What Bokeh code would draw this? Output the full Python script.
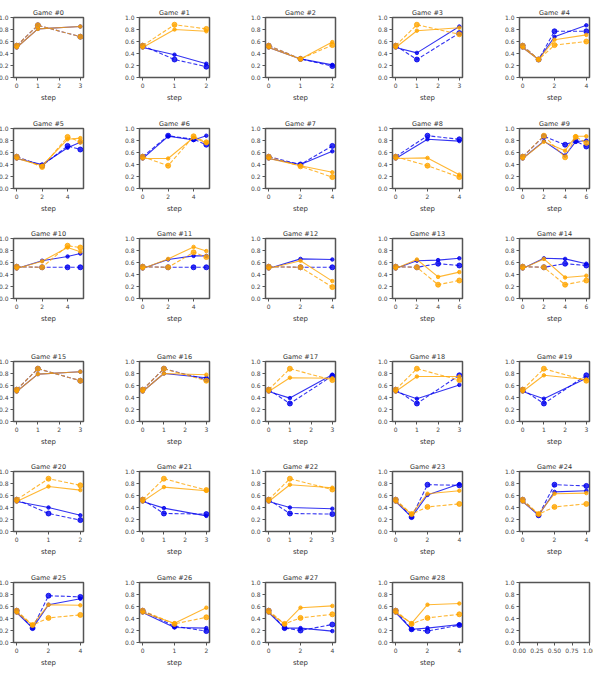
from bokeh.plotting import figure
from bokeh.layouts import column, row
from bokeh.models import FixedTicker, PrintfTickFormatter
from bokeh.embed import file_html
from bokeh.resources import INLINE

# ---- data ----
game_ids = list(range(29))
steps = [
    [0, 1, 3], [0, 1, 2], [0, 1, 2], [0, 1, 3], [0, 1, 2, 4],
    [0, 2, 4, 5], [0, 2, 4, 5], [0, 2, 4], [0, 2, 4], [0, 2, 4, 5, 6],
    [0, 2, 4, 5], [0, 2, 4, 5], [0, 2, 4], [0, 2, 4, 6], [0, 2, 4, 6],
    [0, 1, 3], [0, 1, 3], [0, 1, 3], [0, 1, 3], [0, 1, 3],
    [0, 1, 2], [0, 1, 3], [0, 1, 3], [0, 1, 2, 4], [0, 1, 2, 4],
    [0, 1, 2, 4], [0, 1, 2], [0, 1, 2, 4], [0, 1, 2, 4],
]
blue_solid = [
    [0.50, 0.81, 0.85], [0.50, 0.38, 0.23], [0.50, 0.31, 0.21], [0.50, 0.41, 0.85], [0.50, 0.30, 0.68, 0.87],
    [0.50, 0.40, 0.68, 0.77], [0.50, 0.87, 0.81, 0.88], [0.50, 0.40, 0.62], [0.50, 0.82, 0.79], [0.50, 0.79, 0.55, 0.78, 0.80],
    [0.50, 0.63, 0.70, 0.75], [0.50, 0.65, 0.71, 0.71], [0.50, 0.66, 0.65], [0.50, 0.63, 0.64, 0.67], [0.50, 0.67, 0.66, 0.58],
    [0.50, 0.79, 0.83], [0.50, 0.80, 0.73], [0.50, 0.39, 0.78], [0.50, 0.38, 0.61], [0.50, 0.38, 0.72],
    [0.50, 0.40, 0.27], [0.50, 0.39, 0.26], [0.50, 0.40, 0.38], [0.50, 0.24, 0.61, 0.79], [0.50, 0.27, 0.66, 0.68],
    [0.50, 0.24, 0.63, 0.73], [0.50, 0.25, 0.24], [0.50, 0.24, 0.24, 0.19], [0.50, 0.22, 0.24, 0.30],
]
blue_dashed = [
    [0.53, 0.87, 0.68], [0.53, 0.30, 0.18], [0.53, 0.31, 0.19], [0.53, 0.30, 0.74], [0.53, 0.30, 0.77, 0.77],
    [0.53, 0.38, 0.71, 0.65], [0.53, 0.88, 0.82, 0.73], [0.53, 0.40, 0.71], [0.53, 0.88, 0.82], [0.53, 0.87, 0.73, 0.79, 0.70],
    [0.53, 0.52, 0.52, 0.52], [0.53, 0.52, 0.52, 0.52], [0.53, 0.52, 0.52], [0.53, 0.52, 0.58, 0.55], [0.53, 0.52, 0.58, 0.55],
    [0.53, 0.88, 0.68], [0.53, 0.88, 0.70], [0.53, 0.30, 0.76], [0.53, 0.30, 0.77], [0.53, 0.30, 0.77],
    [0.53, 0.30, 0.19], [0.53, 0.30, 0.29], [0.53, 0.30, 0.29], [0.53, 0.24, 0.78, 0.77], [0.53, 0.27, 0.78, 0.76],
    [0.53, 0.24, 0.78, 0.76], [0.53, 0.27, 0.19], [0.53, 0.24, 0.20, 0.30], [0.53, 0.22, 0.19, 0.29],
]
orange_solid = [
    [0.50, 0.81, 0.85], [0.50, 0.80, 0.77], [0.50, 0.31, 0.59], [0.50, 0.78, 0.83], [0.50, 0.30, 0.63, 0.71],
    [0.50, 0.38, 0.82, 0.84], [0.50, 0.50, 0.85, 0.76], [0.50, 0.38, 0.27], [0.50, 0.51, 0.23], [0.50, 0.78, 0.63, 0.87, 0.87],
    [0.50, 0.62, 0.85, 0.78], [0.50, 0.66, 0.86, 0.79], [0.50, 0.63, 0.29], [0.50, 0.65, 0.36, 0.44], [0.50, 0.66, 0.35, 0.38],
    [0.50, 0.79, 0.83], [0.50, 0.80, 0.78], [0.50, 0.73, 0.72], [0.50, 0.75, 0.75], [0.50, 0.77, 0.70],
    [0.50, 0.75, 0.69], [0.50, 0.74, 0.68], [0.50, 0.78, 0.73], [0.50, 0.29, 0.63, 0.68], [0.50, 0.29, 0.63, 0.64],
    [0.50, 0.29, 0.63, 0.62], [0.50, 0.32, 0.58], [0.50, 0.31, 0.58, 0.61], [0.50, 0.32, 0.63, 0.65],
]
orange_dashed = [
    [0.53, 0.87, 0.68], [0.53, 0.88, 0.81], [0.53, 0.31, 0.54], [0.53, 0.88, 0.72], [0.53, 0.30, 0.54, 0.60],
    [0.53, 0.36, 0.86, 0.78], [0.53, 0.38, 0.87, 0.77], [0.53, 0.37, 0.19], [0.53, 0.38, 0.19], [0.53, 0.88, 0.52, 0.86, 0.76],
    [0.53, 0.52, 0.88, 0.85], [0.53, 0.52, 0.77, 0.69], [0.53, 0.52, 0.19], [0.53, 0.52, 0.23, 0.30], [0.53, 0.52, 0.23, 0.30],
    [0.53, 0.88, 0.68], [0.53, 0.88, 0.68], [0.53, 0.88, 0.69], [0.53, 0.88, 0.69], [0.53, 0.88, 0.68],
    [0.53, 0.88, 0.77], [0.53, 0.88, 0.69], [0.53, 0.88, 0.70], [0.53, 0.29, 0.41, 0.46], [0.53, 0.29, 0.41, 0.46],
    [0.53, 0.29, 0.41, 0.46], [0.53, 0.31, 0.42], [0.53, 0.31, 0.41, 0.47], [0.53, 0.31, 0.41, 0.47],
]
y_ticks = [0.0, 0.2, 0.4, 0.6, 0.8, 1.0]
empty_x_ticks = [0.0, 0.25, 0.5, 0.75, 1.0]

BLUE = "#0000ee"
ORANGE = "#ffa500"
FONT = "DejaVu Sans"
N_COLS = 5
FRAME_W, FRAME_H = 70, 60
right_borders = [32, 32, 33, 33, 32]
bottom_borders = [34, 33, 46, 33, 34, 30]


def style(p, xticks, xfmt):
    p.title.text_font_size = "6.5px"
    p.title.text_font = FONT
    p.title.text_font_style = "normal"
    p.title.align = "center"
    p.title.text_color = "#333333"
    p.title.standoff = 2
    p.outline_line_color = "#555555"
    p.outline_line_width = 1.5
    p.xgrid.visible = False
    p.ygrid.visible = False
    for ax in (p.xaxis[0], p.yaxis[0]):
        ax.major_label_text_font_size = "6px"
        ax.major_label_text_font = FONT
        ax.major_label_text_color = "#444444"
        ax.axis_line_color = None
        ax.major_tick_line_color = "#555555"
        ax.major_tick_out = 3
        ax.major_tick_in = 0
        ax.minor_tick_line_color = None
        ax.major_label_standoff = 2
    p.yaxis.ticker = FixedTicker(ticks=y_ticks)
    p.yaxis.formatter = PrintfTickFormatter(format="%.1f")
    p.xaxis.ticker = FixedTicker(ticks=xticks)
    p.xaxis.formatter = PrintfTickFormatter(format=xfmt)
    p.xaxis.axis_label_text_font_size = "7px"
    p.xaxis.axis_label_text_font = FONT
    p.xaxis.axis_label_text_color = "#333333"
    p.xaxis.axis_label_text_font_style = "normal"
    p.xaxis.axis_label_standoff = 3


def make_game(i, r, c):
    xs = steps[i]
    mx = max(xs)
    xticks = list(range(0, mx + 1)) if mx <= 3 else list(range(0, mx + 1, 2))
    p = figure(frame_width=FRAME_W, frame_height=FRAME_H, title=f"Game #{game_ids[i]}",
               x_range=(-0.05 * mx, 1.05 * mx), y_range=(0, 1.0),
               output_backend="svg", toolbar_location=None,
               min_border_left=24, min_border_right=right_borders[c],
               min_border_top=17, min_border_bottom=bottom_borders[r])
    style(p, xticks, "%d")
    p.xaxis.axis_label = "step"
    series = [
        (blue_solid[i], BLUE, "solid", 3.5),
        (blue_dashed[i], BLUE, "4 2", 5),
        (orange_solid[i], ORANGE, "solid", 3.5),
        (orange_dashed[i], ORANGE, "4 2", 5),
    ]
    for ys, col, dash, sz in series:
        p.line(xs, ys, line_color=col, line_width=1.1, line_dash=dash, line_alpha=0.8)
        p.scatter(xs, ys, size=sz, fill_color=col, line_color=col, fill_alpha=0.8, line_alpha=0.8)
    return p


def make_empty(r, c):
    p = figure(frame_width=FRAME_W, frame_height=FRAME_H, title=" ",
               x_range=(0, 1), y_range=(0, 1),
               output_backend="svg", toolbar_location=None,
               min_border_left=24, min_border_right=right_borders[c],
               min_border_top=17, min_border_bottom=bottom_borders[r])
    style(p, empty_x_ticks, "%.2f")
    p.scatter([0.5], [0.5], size=0, alpha=0)
    return p


rows = []
for r in range(6):
    cells = []
    for c in range(N_COLS):
        i = r * N_COLS + c
        if i < len(game_ids):
            cells.append(make_game(i, r, c))
        else:
            cells.append(make_empty(r, c))
    rows.append(row(*cells, spacing=0))

layout = column(*rows, spacing=0, margin=(0, 0, 0, -11))

open("out.html", "w").write(file_html(layout, INLINE))
